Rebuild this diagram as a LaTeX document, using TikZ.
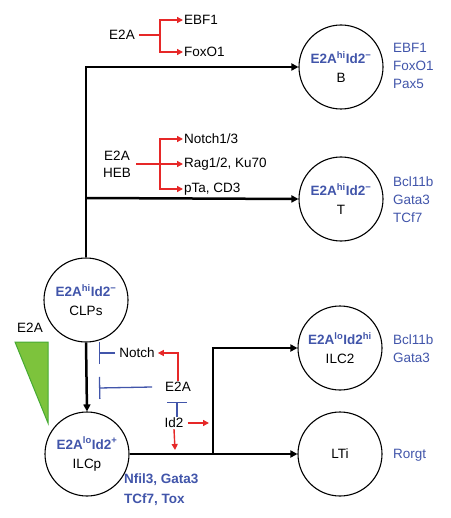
\documentclass[tikz,border=0pt]{standalone}
\usepackage{fontspec}
\setmainfont{Liberation Sans}
\usetikzlibrary{arrows.meta}
\definecolor{rd}{RGB}{230,40,40}
\definecolor{bl}{RGB}{65,85,170}
\definecolor{gf}{RGB}{125,195,60}
\definecolor{gd}{RGB}{70,170,50}
\tikzset{
  cell/.style={circle,draw,line width=1.1pt,minimum size=84pt,inner sep=0pt,align=center,font=\fontsize{13.5}{15}\selectfont},
  main/.style={line width=2.5pt,-{Triangle[length=7pt,width=7pt]}},
  plain/.style={line width=2.5pt},
  act/.style={rd,line width=1.4pt,-{Triangle[length=6pt,width=6pt]}},
  actline/.style={rd,line width=1.4pt},
  inh/.style={bl,line width=1.3pt},
  lbl/.style={inner sep=1pt,font=\fontsize{13.5}{17}\selectfont},
  blue list/.style={anchor=west,inner sep=0pt,align=left,text=bl,font=\fontsize{13.5}{18}\selectfont},
}
\newcommand{\hdr}[2]{{\color{bl}\bfseries E2A\textsuperscript{#1}Id2\textsuperscript{#2}}}
\begin{document}
\begin{tikzpicture}[x=1pt,y=-1pt]
\useasboundingbox (0,0) rectangle (450,518);
% cells
\node[cell] (CLP) at (86,300) {\hdr{hi}{−}\\[4pt]CLPs};
\node[cell] (ILCp) at (87,454) {\hdr{lo}{+}\\[4pt]ILCp};
\node[cell] (B) at (341,67) {\hdr{hi}{−}\\[4pt]B};
\node[cell] (T) at (341,199) {\hdr{hi}{−}\\[4pt]T};
\node[cell] (ILC2) at (340,348) {\hdr{lo}{hi}\\[4pt]ILC2};
\node[cell] (LTi) at (340,454) {LTi};
% main lineage connectors
\coordinate (tT) at (86,198);
\coordinate (J) at (213,454);
\draw[main] (CLP.north) |- (B.west);
\draw[main] (tT) -- (T.west);
\draw[main] (CLP.south) -- (ILCp.north);
\draw[main] (ILCp.east) -- (LTi.west);
\draw[plain] (J) -- (213,348) coordinate (J2);
\draw[main] ([xshift=-1.25pt]J2) -- (ILC2.west);
% top red cluster
\node[lbl] (Ea) at (122,35) {E2A};
\coordinate (ja) at (160,35);
\node[lbl,anchor=west] (EBF) at (183,20) {EBF1};
\node[lbl,anchor=west] (Fox) at (183,52) {FoxO1};
\draw[actline] (Ea.east) ++(3,0) -- (ja);
\draw[act] (ja) |- (EBF.west);
\draw[act] (ja) |- (Fox.west);
% middle red cluster
\node[lbl,align=center] (EH) at (117,164) {E2A\\HEB};
\coordinate (jb) at (160,164);
\node[lbl,anchor=west] (N13) at (183,139) {Notch1/3};
\node[lbl,anchor=west] (Rag) at (183,164) {Rag1/2, Ku70};
\node[lbl,anchor=west] (pTa) at (183,189) {pTa, CD3};
\draw[actline] (EH.east) ++(4,0) -- (jb);
\draw[act] (jb) |- (N13.west);
\draw[act] (jb) -- (Rag.west);
\draw[act] (jb) |- (pTa.west);
% bottom regulation
\node[lbl] (Notch) at (137,353) {Notch};
\node[lbl] (Eb) at (178,387) {E2A};
\node[lbl] (Id2) at (174,423) {Id2};
\coordinate (b1) at (99,353);
\coordinate (b2) at (99,388);
\coordinate (b3) at (177,402);
\coordinate (idr) at (209,423);
\coordinate (idd) at (175,450);
\draw[act] (Eb.north) |- ([xshift=2pt]Notch.east);
\draw[inh,-{Bar[width=22pt,line width=1.3pt]}] ([xshift=-3pt]Notch.west) -- (b1);
\draw[inh,-{Bar[width=22pt,line width=1.3pt]}] ([xshift=-12pt]Eb.west) -- (b2);
\draw[inh,-{Bar[width=20pt,line width=1.3pt]}] (Id2.north -| b3) -- (b3);
\draw[act] ([xshift=3pt]Id2.east) -- (idr);
\draw[act] (Id2.south) -- (idd);
% E2A gradient triangle
\node[lbl] (Eg) at (30,328) {E2A};
\filldraw[fill=gf,draw=gd,line width=1pt] (15,342) -- (48,342) -- (48,423) -- cycle;
% blue lists
\node[blue list] (LB) at (393,66) {EBF1\\FoxO1\\Pax5};
\node[blue list] (LT) at (393,200) {Bcl11b\\Gata3\\TCf7};
\node[blue list] (L2) at (393,349) {Bcl11b\\Gata3};
\node[blue list] (LL) at (393,455) {Rorgt};
\node[blue list,font=\bfseries\fontsize{13.5}{20}\selectfont] (LI) at (124,490) {Nfil3, Gata3\\TCf7, Tox};
\end{tikzpicture}
\end{document}
